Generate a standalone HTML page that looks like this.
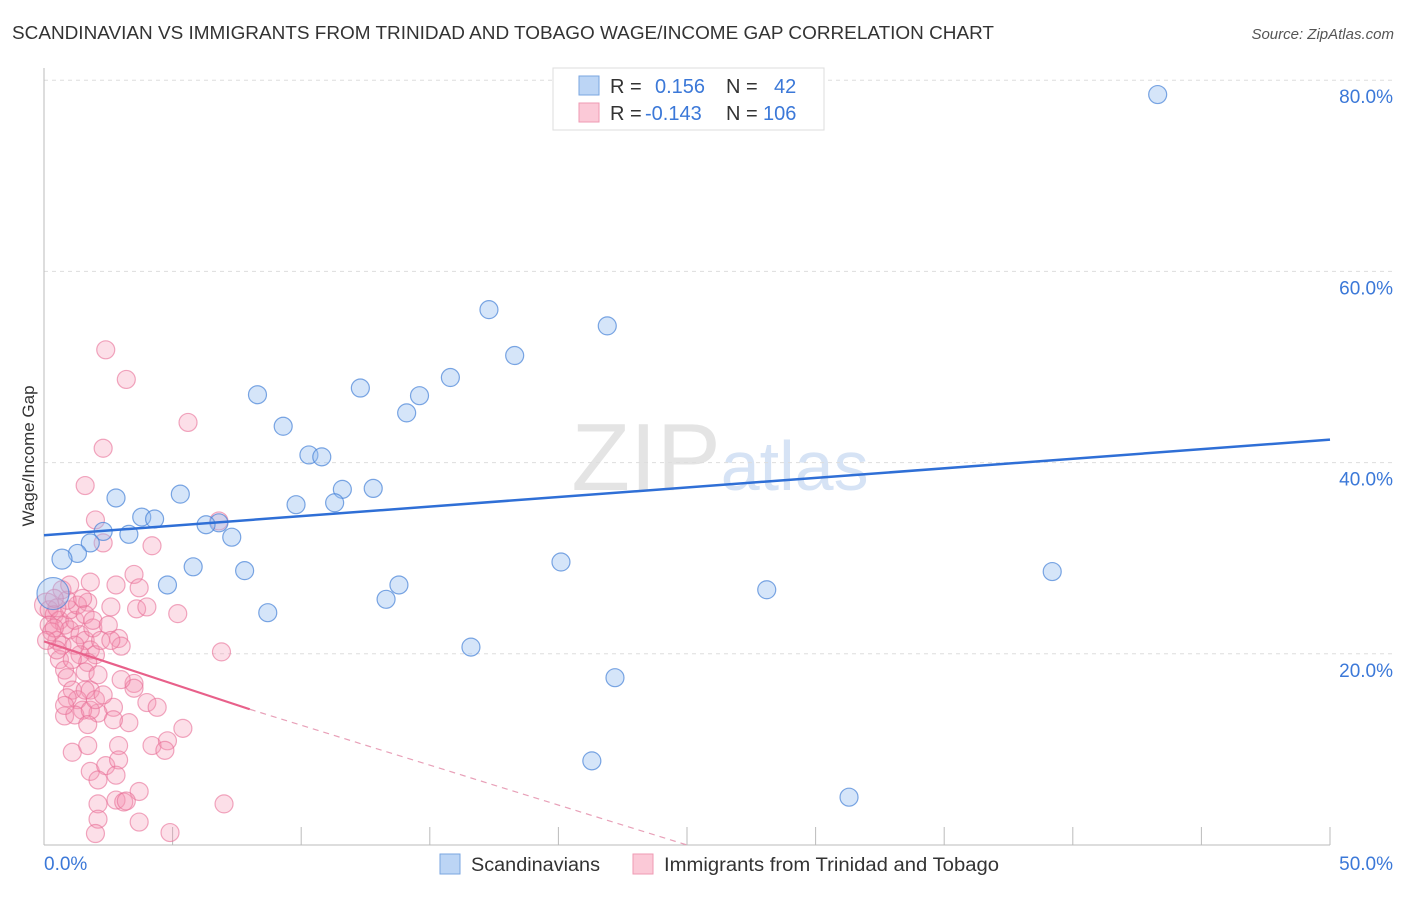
<!DOCTYPE html>
<html><head><meta charset="utf-8"><style>
body{margin:0;background:#fff;font-family:"Liberation Sans",sans-serif;}
svg text{font-family:"Liberation Sans",sans-serif;}
</style></head><body>
<svg id="chart" width="1406" height="892" xmlns="http://www.w3.org/2000/svg">
<text x="12" y="39" font-size="18" fill="#333" textLength="982" lengthAdjust="spacingAndGlyphs">SCANDINAVIAN VS IMMIGRANTS FROM TRINIDAD AND TOBAGO WAGE/INCOME GAP CORRELATION CHART</text>
<text x="1394" y="39" font-size="15" fill="#555" text-anchor="end" font-style="italic">Source: ZipAtlas.com</text>
<text x="720" y="490" font-size="96" text-anchor="middle" fill="#e4e4e4" font-family="Liberation Serif">ZIP<tspan fill="#d6e3f5" font-family="Liberation Sans" font-size="70">atlas</tspan></text>
<g id="grid"></g>
<g id="axes"></g>
<g id="pts"></g>
<g id="trend"></g>
<text transform="translate(34,456) rotate(-90)" font-size="17" fill="#333" text-anchor="middle">Wage/Income Gap</text>
<g>
<rect x="553" y="68" width="271" height="62" fill="#fff" stroke="#ddd"/>
<rect x="579" y="76" width="20" height="19" fill="#bcd5f5" stroke="#7aa6e0"/>
<rect x="579" y="103" width="20" height="19" fill="#fbc9d7" stroke="#ef9ab3"/>
<text x="610" y="93" font-size="20" fill="#333">R =</text>
<text x="655" y="93" font-size="20" fill="#3b78d8">0.156</text>
<text x="726" y="93" font-size="20" fill="#333">N =</text>
<text x="774" y="93" font-size="20" fill="#3b78d8">42</text>
<text x="610" y="120" font-size="20" fill="#333">R =</text>
<text x="645" y="120" font-size="20" fill="#3b78d8">-0.143</text>
<text x="726" y="120" font-size="20" fill="#333">N =</text>
<text x="763" y="120" font-size="20" fill="#3b78d8">106</text>
</g>
<g>
<rect x="440" y="854" width="20" height="20" fill="#bcd5f5" stroke="#7aa6e0"/>
<text x="471" y="871" font-size="19" fill="#333" textLength="129" lengthAdjust="spacingAndGlyphs">Scandinavians</text>
<rect x="633" y="854" width="20" height="20" fill="#fbc9d7" stroke="#ef9ab3"/>
<text x="664" y="871" font-size="19" fill="#333" textLength="335" lengthAdjust="spacingAndGlyphs">Immigrants from Trinidad and Tobago</text>
</g>
</svg>
<script>
const xTicks=[0,5,10,15,20,25,30,35,40,45,50];
const yTicks=[20,40,60,80];
const yTickLabels=["20.0%","40.0%","60.0%","80.0%"];
const xEndLabels=["0.0%","50.0%"];
const blueX=[43.3,17.3,21.9,18.3,15.8,12.3,8.3,14.6,14.1,9.3,10.3,10.8,11.6,12.8,5.3,2.8,9.8,11.3,3.8,4.3,6.8,6.3,2.3,3.3,7.3,1.8,1.3,0.7,20.1,5.8,7.8,39.2,4.8,13.8,28.1,0.35,13.3,8.7,16.6,22.2,21.3,31.3];
const blueY=[78.5,56.0,54.3,51.2,48.9,47.8,47.1,47.0,45.2,43.8,40.8,40.6,37.2,37.3,36.7,36.3,35.6,35.8,34.3,34.1,33.7,33.5,32.8,32.5,32.2,31.6,30.5,29.9,29.6,29.1,28.7,28.6,27.2,27.2,26.7,26.3,25.7,24.3,20.7,17.5,8.8,5.0];
const pinkX=[2.4,3.2,5.6,2.3,1.6,2.0,2.3,4.2,6.8,3.5,1.8,2.8,3.7,2.6,3.6,4.0,5.2,1.7,2.9,3.0,6.9,1.8,3.5,3.5,4.0,4.4,2.7,2.1,5.4,3.3,2.7,0.8,1.1,1.7,2.9,4.2,4.8,4.7,1.8,2.4,2.9,2.8,2.1,3.7,2.8,3.1,3.2,2.1,7.0,2.1,3.7,2.0,4.9,
0.1,0.2,0.4,0.6,0.8,0.2,0.3,0.5,0.7,1.0,1.2,1.4,1.6,1.8,2.0,1.0,1.3,1.6,1.9,0.6,0.8,0.9,1.1,1.3,1.5,1.2,1.4,1.7,1.2,0.5,0.9,1.9,2.2,1.6,0.9,0.4,0.1,0.5,1.1,1.6,1.8,2.0,2.3,0.7,2.5,2.6,2.1,3.0,1.5,1.0,1.7,0.8,0.4];
const pinkY=[51.8,48.7,44.2,41.5,37.6,34.0,31.6,31.3,33.9,28.3,27.5,27.2,26.9,24.9,24.7,24.9,24.2,25.4,21.6,20.8,20.2,16.2,16.9,16.4,14.9,14.4,14.4,13.8,12.2,12.8,13.1,13.5,9.7,10.4,10.4,10.4,10.9,9.9,7.7,8.3,8.9,7.3,6.8,5.6,4.7,4.5,4.6,4.3,4.3,2.7,2.4,1.2,1.3,
25.1,24.6,24.1,23.5,23.0,23.0,22.3,21.4,20.9,22.5,23.5,22.0,21.4,20.4,19.9,24.6,25.1,24.1,22.7,19.4,18.3,17.5,16.2,15.2,14.1,13.6,19.9,19.1,20.9,20.4,25.6,23.5,21.4,18.1,15.4,22.7,21.4,24.8,19.4,16.2,14.1,15.2,15.7,26.7,23.0,21.4,17.8,17.3,25.8,27.2,12.6,14.6,25.8];
const blueTrend=[[0,32.4],[50,42.4]];
const pinkTrendSolid=[[0,21.3],[8.0,14.2]];
const pinkTrendDash=[[8.0,14.2],[25,0]];

const NS="http://www.w3.org/2000/svg";
const X=v=>44+v*25.72, Y=v=>845-v*9.56;
function mk(tag,attrs,parent){const e=document.createElementNS(NS,tag);for(const k in attrs)e.setAttribute(k,attrs[k]);parent.appendChild(e);return e;}
const grid=document.getElementById('grid'),axes=document.getElementById('axes'),pts=document.getElementById('pts'),trend=document.getElementById('trend');
yTicks.forEach((t,i)=>{
 const l=mk('line',{x1:44,x2:1394,y1:Y(t),y2:Y(t),stroke:'#ddd','stroke-dasharray':'4,4'},grid);
 
 
 const tx=mk('text',{x:1393,y:Y(t)+23,'font-size':19,fill:'#3b78d8','text-anchor':'end'},grid);
 tx.textContent=yTickLabels[i];
 
 
});
const ya=mk('line',{x1:44,x2:44,y1:68,y2:845,stroke:'#bbb'},axes);


const xa=mk('line',{x1:44,x2:1330,y1:845,y2:845,stroke:'#bbb'},axes);


xTicks.forEach(t=>{
 const l=mk('line',{x1:X(t),x2:X(t),y1:827,y2:845,stroke:'#bbb'},axes);
 
 
});
const xl0=mk('text',{x:44,y:870,'font-size':19,fill:'#3b78d8'},axes);xl0.textContent=xEndLabels[0];


const xl1=mk('text',{x:1393,y:870,'font-size':19,fill:'#3b78d8','text-anchor':'end'},axes);xl1.textContent=xEndLabels[1];


pinkX.forEach((v,i)=>{
 const c=mk('circle',{cx:X(v),cy:Y(pinkY[i]),r:(i==53?12:9),fill:'rgba(245,150,180,0.3)',stroke:'rgba(232,110,150,0.6)','stroke-width':1.2},pts);
 
 
});
blueX.forEach((v,i)=>{
 const c=mk('circle',{cx:X(v),cy:Y(blueY[i]),r:(i==35?16:(i==27?10:9)),fill:'rgba(150,190,240,0.4)',stroke:'rgba(70,130,215,0.7)','stroke-width':1.2},pts);
 
 
});
const bt=mk('line',{x1:X(blueTrend[0][0]),y1:Y(blueTrend[0][1]),x2:X(blueTrend[1][0]),y2:Y(blueTrend[1][1]),stroke:'#2f6fd6','stroke-width':2.5},trend);


const ps=mk('line',{x1:X(pinkTrendSolid[0][0]),y1:Y(pinkTrendSolid[0][1]),x2:X(pinkTrendSolid[1][0]),y2:Y(pinkTrendSolid[1][1]),stroke:'#e8608a','stroke-width':2.2},trend);


const pd=mk('line',{x1:X(pinkTrendDash[0][0]),y1:Y(pinkTrendDash[0][1]),x2:X(pinkTrendDash[1][0]),y2:Y(pinkTrendDash[1][1]),stroke:'#e8a0b8','stroke-width':1.2,'stroke-dasharray':'6,5'},trend);


</script>
</body></html>
